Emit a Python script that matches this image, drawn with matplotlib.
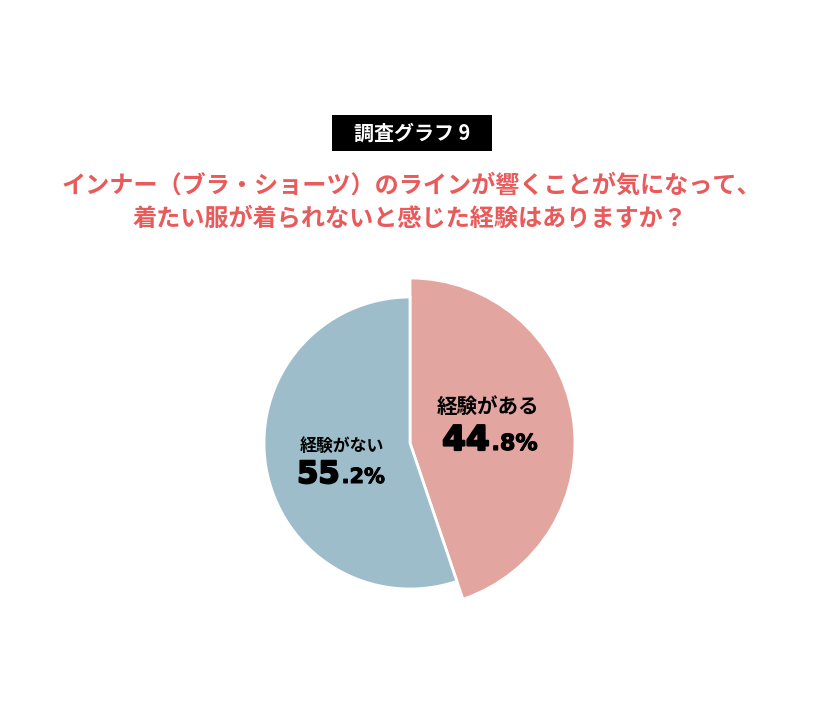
import matplotlib
matplotlib.use("Agg")
import matplotlib.pyplot as plt
from matplotlib.patches import Rectangle
import matplotlib.patheffects as pe

W, H = 834, 709
plt.rcParams['font.family'] = ['Noto Sans CJK JP', 'DejaVu Sans']

# ---- data ----
badge_text = "調査グラフ 9"
title_lines = ["インナー（ブラ・ショーツ）のラインが響くことが気になって、",
               "着たい服が着られないと感じた経験はありますか？"]
categories = ["経験がある", "経験がない"]
values = [44.8, 55.2]
colors = ["#E3A5A0", "#9DBDCB"]
title_color = "#E95A5B"

fig = plt.figure(figsize=(W / 100, H / 100), dpi=100)
fig.patch.set_facecolor("white")
ax = fig.add_axes([0, 0, 1, 1])


def Y(y):
    return H - y


cx, cy = 410, Y(443)
wedges, _ = ax.pie(values, colors=colors, startangle=90, counterclock=False,
                   center=(cx, cy), radius=146,
                   wedgeprops=dict(edgecolor="white", linewidth=2))
wedges[0].set_radius(165)
ax.set_xlim(0, W)
ax.set_ylim(0, H)
ax.set_aspect("equal")
ax.axis("off")

# badge
ax.add_patch(Rectangle((332, Y(151)), 160, 36, facecolor="black", edgecolor="none"))
ax.text(412, Y(133), badge_text, color="white", fontsize=14.4, fontweight="bold",
        ha="center", va="center")

# title
ax.text(411, Y(186), title_lines[0], color=title_color, fontsize=17.4,
        fontweight="bold", ha="center", va="center")
ax.text(410, Y(219), title_lines[1], color=title_color, fontsize=17.4,
        fontweight="bold", ha="center", va="center")

# labels
fig.canvas.draw()
rend = fig.canvas.get_renderer()


def pct_label(xc, yb, value, big, small, sw_big, sw_small):
    s = f"{value:.1f}%"
    ip, dp = s.split(".")
    t1 = ax.text(0, yb, ip, fontsize=big, fontweight="bold", family="DejaVu Sans",
                 va="baseline", ha="left", color="black",
                 path_effects=[pe.withStroke(linewidth=sw_big, foreground="black")])
    t2 = ax.text(0, yb, "." + dp, fontsize=small, fontweight="bold",
                 family="DejaVu Sans", va="baseline", ha="left", color="black",
                 path_effects=[pe.withStroke(linewidth=sw_small, foreground="black")])
    w1 = t1.get_window_extent(rend).width
    w2 = t2.get_window_extent(rend).width
    gap = 2
    x0 = xc - (w1 + w2 + gap) / 2
    t1.set_x(x0)
    t2.set_x(x0 + w1 + gap)


ax.text(488, Y(406), categories[0], fontsize=14.8, fontweight="bold",
        ha="center", va="center", color="black")
pct_label(490, Y(450), values[0], 24.5, 16, 1.6, 0.8)

ax.text(342, Y(446), categories[1], fontsize=12.2, fontweight="bold",
        ha="center", va="center", color="black")
pct_label(341, Y(483), values[1], 22, 15, 1.4, 0.7)

fig.savefig("out.png", dpi=100)
